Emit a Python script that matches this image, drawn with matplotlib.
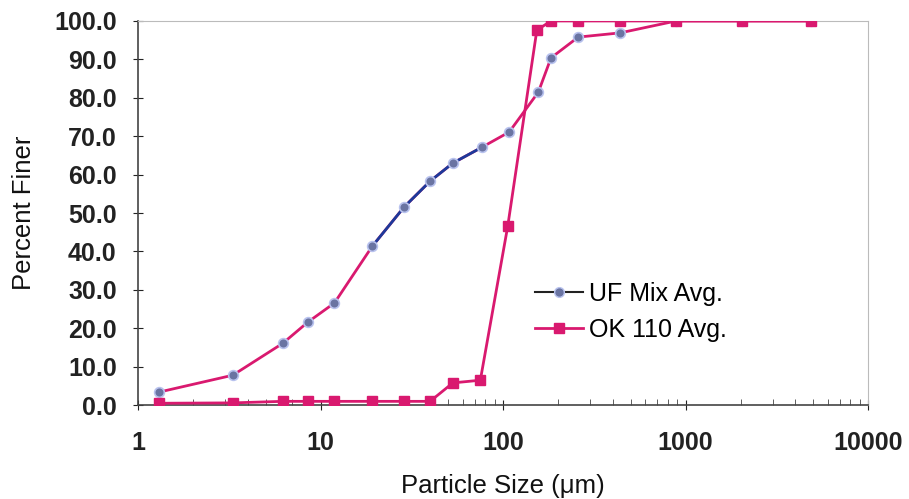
import matplotlib.pyplot as plt
import numpy as np

plt.rcParams['font.family'] = ['Liberation Sans', 'DejaVu Sans']

# UF Mix Avg.
uf_size = [1.3, 3.3, 6.2, 8.5, 11.9, 19.2, 28.7, 39.8, 53, 77, 108, 156, 183, 258, 438, 887, 2040, 4870]
uf_finer = [3.4, 7.8, 16.1, 21.6, 26.6, 41.4, 51.6, 58.3, 63.0, 67.2, 71.1, 81.5, 90.4, 95.8, 96.9, 100, 100, 100]

# OK 110 Avg.
ok_size = [1.3, 3.3, 6.2, 8.5, 11.9, 19.2, 28.7, 39.8, 53, 75, 106, 153, 183, 258, 438, 887, 2040, 4870]
ok_finer = [0.5, 0.6, 1.0, 1.0, 1.0, 1.0, 1.0, 1.0, 5.8, 6.5, 46.6, 97.6, 100, 100, 100, 100, 100, 100]

pink = "#d9196f"
navy = "#1c3a9a"

fig = plt.figure(figsize=(9.09, 4.99), dpi=100)
ax1 = fig.add_axes([0.152, 0.188, 0.803, 0.770])

ax1.plot(uf_size, uf_finer, color=pink, lw=2, zorder=2)
ax1.plot(uf_size[5:10], uf_finer[5:10], color=navy, lw=2, zorder=2)
ax1.plot(uf_size, uf_finer, ls="none", marker="o", ms=7,
         mfc="#6a74a2", mec="#b8c2ee", mew=1.2, zorder=3)
ax1.plot(ok_size, ok_finer, color=pink, lw=2, marker="s", ms=7.5,
         mfc=pink, mec=pink, label="OK 110 Avg.", zorder=4)
# legend proxy
ax1.plot([], [], color="#222222", lw=1.5, marker="o", ms=7,
         mfc="#6a74a2", mec="#b8c2ee", label="UF Mix Avg.")

ax1.set_xscale("log")
ax1.set_xlim(1, 10000)
ax1.set_ylim(0, 100)
ax1.set_yticks(np.arange(0, 101, 10))
ax1.set_yticklabels(["%.1f" % v for v in np.arange(0, 101, 10)])
ax1.set_xticks([1, 10, 100, 1000, 10000])
ax1.set_xticklabels(["1", "10", "100", "1000", "10000"])

for s in ["top", "right"]:
    ax1.spines[s].set_color("#bbbbbb")
for s in ["left", "bottom"]:
    ax1.spines[s].set_color("#444444")
    ax1.spines[s].set_linewidth(1.2)

ax1.tick_params(axis="both", labelsize=18, colors="#222222", direction="inout", length=7)
ax1.tick_params(axis="y", pad=12)
ax1.tick_params(axis="x", pad=15)
ax1.tick_params(axis="x", which="minor", direction="in", length=4, color="#444444")
for lbl in ax1.get_xticklabels() + ax1.get_yticklabels():
    lbl.set_fontweight("bold")

ax1.set_ylabel("Percent Finer", fontsize=18.5, color="#111111", labelpad=13)
ax1.set_xlabel("Particle Size (\u03bcm)", fontsize=18.5, color="#111111", labelpad=14)

handles, labels = ax1.get_legend_handles_labels()
ax1.legend(handles[::-1], labels[::-1], loc="upper left",
           bbox_to_anchor=(0.544, 0.32), frameon=False, fontsize=18,
           borderpad=0, borderaxespad=0,
           handlelength=1.9, handletextpad=0.25, labelspacing=0.48)

fig.savefig("out.png", dpi=100)
